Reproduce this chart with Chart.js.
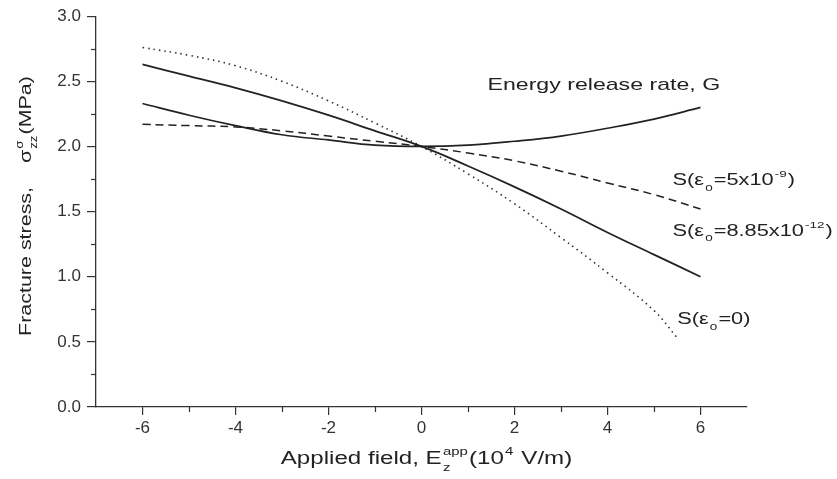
<!DOCTYPE html>
<html>
<head>
<meta charset="utf-8">
<title>Fracture stress vs applied field</title>
<script src="https://cdn.jsdelivr.net/npm/chart.js@4.4.1/dist/chart.umd.min.js"></script>
<style>
  html, body { margin: 0; padding: 0; background: #fff; }
</style>
</head>
<body>
<canvas id="fractureChart" width="837" height="479"></canvas>
<script>
// Applied field (10^4 V/m)
const fieldX = [-6, -5, -4, -3, -2, -1, 0, 1, 2, 3, 4, 5, 6];
const fieldXZero = [-6, -5, -4, -3, -2, -1, 0, 1, 2, 3, 4, 5, 5.5];

// Fracture stress (MPa)
const energyRelease = [2.33, 2.24, 2.16, 2.09, 2.05, 2.01, 2.00, 2.01, 2.04, 2.08, 2.14, 2.21, 2.30];
const sEps5e9 = [2.17, 2.16, 2.15, 2.12, 2.08, 2.04, 2.00, 1.95, 1.89, 1.81, 1.72, 1.63, 1.52];
const sEps885e12 = [2.63, 2.54, 2.45, 2.35, 2.24, 2.12, 2.00, 1.85, 1.69, 1.52, 1.34, 1.17, 1.00];
const sEpsZero = [2.76, 2.70, 2.62, 2.50, 2.35, 2.18, 2.00, 1.79, 1.56, 1.30, 1.03, 0.74, 0.53];

// Curve labels: [text segments, x, y, font size] in data units (left edge, vertical middle)
const curveNotes = [
    [[{ t: 'Energy release rate, G' }], 1.42, 2.48, 17],
    [[{ t: 'S(\u03b5' }, { sub: '0' }, { t: '=5x10' }, { sup: '-9' }, { t: ')' }], 5.4, 1.75, 16],
    [[{ t: 'S(\u03b5' }, { sub: '0' }, { t: '=8.85x10' }, { sup: '-12' }, { t: ')' }], 5.4, 1.36, 16],
    [[{ t: 'S(\u03b5' }, { sub: '0' }, { t: '=0)' }], 5.5, 0.68, 16]
];

const xTitle = [{ t: 'Applied field, E' }, { sub: 'z', sup: 'app' }, { t: '(10' }, { sup: '4' }, { t: ' V/m)' }];
const yTitle = [{ t: 'Fracture stress,    \u03c3' }, { sub: 'zz', sup: '\u03c3' }, { t: '(MPa)' }];

const FAMILY = '"Liberation Sans", Arial, Helvetica, sans-serif';
const INK = '#222';

function toPoints(xs, ys) {
    return xs.map((x, i) => ({ x: x, y: ys[i] }));
}

// width of one rich-text segment
function segWidth(ctx, s, size) {
    if (s.t !== undefined) {
        ctx.font = size + 'px ' + FAMILY;
        return ctx.measureText(s.t).width;
    }
    ctx.font = (size * 0.62) + 'px ' + FAMILY;
    const a = s.sub ? ctx.measureText(s.sub).width : 0;
    const b = s.sup ? ctx.measureText(s.sup).width : 0;
    return Math.max(a, b) + size * 0.1;
}

// draws text with sub/superscripts; y is the middle of the capitals
function drawRich(ctx, segs, x, y, o) {
    const size = o.size;
    ctx.save();
    ctx.translate(x, y);
    if (o.rotate) ctx.rotate(o.rotate);
    ctx.scale(o.stretch || 1, 1);
    ctx.fillStyle = INK;
    ctx.textBaseline = 'alphabetic';
    ctx.textAlign = 'left';
    let total = 0;
    segs.forEach(s => { total += segWidth(ctx, s, size); });
    let cx = o.align === 'center' ? -total / 2 : 0;
    const base = size * 0.36;
    segs.forEach(s => {
        const w = segWidth(ctx, s, size);
        if (s.t !== undefined) {
            ctx.font = size + 'px ' + FAMILY;
            ctx.fillText(s.t, cx, base);
        } else {
            ctx.font = (size * 0.62) + 'px ' + FAMILY;
            if (s.sub) ctx.fillText(s.sub, cx + size * 0.05, base + size * 0.36);
            if (s.sup) ctx.fillText(s.sup, cx + size * 0.05, base - size * 0.5);
        }
        cx += w;
    });
    ctx.restore();
}

const isMajorX = v => Math.abs(v % 2) < 1e-6;
const isMajorY = v => Math.abs((v * 2) - Math.round(v * 2)) < 1e-6;

// minor ticks, axis titles and curve labels
const annotations = {
    id: 'annotations',
    afterDraw(chart) {
        const ctx = chart.ctx;
        const xs = chart.scales.x, ys = chart.scales.y;
        const area = chart.chartArea;
        ctx.save();
        ctx.strokeStyle = '#333';
        ctx.lineWidth = 1.2;
        xs.ticks.forEach(t => {
            if (isMajorX(t.value) || Math.abs(t.value) === 7) return;
            const px = Math.round(xs.getPixelForValue(t.value)) + 0.5;
            ctx.beginPath();
            ctx.moveTo(px, area.bottom);
            ctx.lineTo(px, area.bottom + 5);
            ctx.stroke();
        });
        ys.ticks.forEach(t => {
            if (isMajorY(t.value)) return;
            const py = Math.round(ys.getPixelForValue(t.value)) + 0.5;
            ctx.beginPath();
            ctx.moveTo(area.left - 5, py);
            ctx.lineTo(area.left, py);
            ctx.stroke();
        });
        ctx.restore();

        curveNotes.forEach(n => {
            drawRich(ctx, n[0], xs.getPixelForValue(n[1]), ys.getPixelForValue(n[2]),
                { size: n[3], stretch: 1.36 });
        });
        drawRich(ctx, xTitle, (area.left + area.right) / 2 + 5, 458, { size: 18, stretch: 1.34, align: 'center' });
        drawRich(ctx, yTitle, 25, 206, { size: 16.5, stretch: 1.3, align: 'center', rotate: -Math.PI / 2 });
    }
};

const ctx = document.getElementById('fractureChart').getContext('2d');
new Chart(ctx, {
    type: 'scatter',
    data: {
        datasets: [
            {
                label: 'Energy release rate, G',
                data: toPoints(fieldX, energyRelease),
                borderColor: INK, borderWidth: 1.7
            },
            {
                label: 'S(eps0=5x10^-9)',
                data: toPoints(fieldX, sEps5e9),
                borderColor: INK, borderWidth: 1.5, borderDash: [8, 5]
            },
            {
                label: 'S(eps0=8.85x10^-12)',
                data: toPoints(fieldX, sEps885e12),
                borderColor: INK, borderWidth: 1.8
            },
            {
                label: 'S(eps0=0)',
                data: toPoints(fieldXZero, sEpsZero),
                borderColor: '#333', borderWidth: 1.6, borderDash: [1.5, 4]
            }
        ]
    },
    options: {
        responsive: false,
        animation: false,
        devicePixelRatio: 1,
        showLine: true,
        elements: {
            point: { radius: 0, hoverRadius: 0 },
            line: { tension: 0.4, fill: false }
        },
        layout: { padding: { left: 0, top: 16, right: 90, bottom: 0 } },
        plugins: {
            legend: { display: false },
            tooltip: { enabled: false },
            title: { display: false }
        },
        scales: {
            x: {
                type: 'linear',
                min: -7, max: 7,
                afterFit(scale) { scale.height = 72; },
                border: { display: true, color: '#333', width: 1.3 },
                grid: {
                    drawOnChartArea: false, drawTicks: true, tickLength: 8, lineWidth: 1.2,
                    color: c => (c.tick && isMajorX(c.tick.value)) ? '#333' : 'rgba(0,0,0,0)'
                },
                ticks: {
                    stepSize: 1, autoSkip: false, maxRotation: 0, padding: 3,
                    color: '#333', font: { family: FAMILY, size: 17 },
                    callback: v => isMajorX(v) ? String(v) : ''
                }
            },
            y: {
                type: 'linear',
                min: 0, max: 3,
                afterFit(scale) { scale.width = 96; },
                border: { display: true, color: '#333', width: 1.3 },
                grid: {
                    drawOnChartArea: false, drawTicks: true, tickLength: 9, lineWidth: 1.2,
                    color: c => (c.tick && isMajorY(c.tick.value)) ? '#333' : 'rgba(0,0,0,0)'
                },
                ticks: {
                    stepSize: 0.25, autoSkip: false, padding: 6,
                    color: '#333', font: { family: FAMILY, size: 17 },
                    callback: v => isMajorY(v) ? v.toFixed(1) : ''
                }
            }
        }
    },
    plugins: [annotations]
});
</script>
</body>
</html>
